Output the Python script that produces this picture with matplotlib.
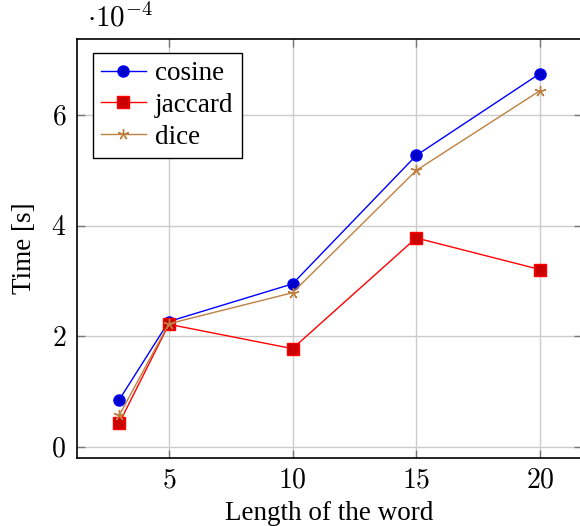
import matplotlib
matplotlib.use("Agg")
import matplotlib.pyplot as plt

# -- Data (time in units of 1e-4 s) --
word_length = [3, 5, 10, 15, 20]
cosine = [0.86, 2.27, 2.95, 5.27, 6.75]
jaccard = [0.44, 2.22, 1.78, 3.78, 3.21]
dice = [0.58, 2.23, 2.79, 5.00, 6.44]

x_ticks = [5, 10, 15, 20]
y_ticks = [0, 2, 4, 6]

plt.rcParams.update({
    "font.family": "serif",
    "font.serif": ["Liberation Serif", "DejaVu Serif"],
    "mathtext.fontset": "cm",
    "font.size": 19,
})

fig = plt.figure(figsize=(5.8, 5.26), dpi=100)
ax = fig.add_axes([0.1333, 0.1299, 0.870, 0.7965])

ax.plot(word_length, cosine, color="blue", lw=1.0, marker="o", ms=8,
        mfc="#0000cc", mec="blue", label="cosine")
ax.plot(word_length, jaccard, color="red", lw=1.0, marker="s", ms=8,
        mfc="#cc0000", mec="red", label="jaccard")
ax.plot(word_length, dice, color="#bf8040", lw=1.0, marker=(5, 2, 0), ms=8,
        mec="#bf8040", mew=1.0, label="dice")

ax.set_xlim(1.3, 21.7)
ax.set_ylim(-0.19, 7.38)
ax.set_xticks(x_ticks)
ax.set_xticklabels([f"${t}$" for t in x_ticks])
ax.set_yticks(y_ticks)
ax.set_yticklabels([f"${t}$" for t in y_ticks])
ax.tick_params(direction="in", top=True, right=True, length=6, width=1.0,
               color="#777777", labelsize=20, pad=8)
ax.grid(True, color="#cccccc", lw=1.0)
ax.set_axisbelow(True)
for sp in ax.spines.values():
    sp.set_linewidth(1.2)

ax.set_xlabel("Length of the word", labelpad=5, fontsize=19.5)
ax.set_ylabel("Time [s]", labelpad=10, fontsize=19.5)
ax.text(0.02, 1.028, r"$\cdot 10^{-4}$", transform=ax.transAxes, fontsize=21,
        ha="left", va="baseline")

leg = ax.legend(loc="upper left", bbox_to_anchor=(0.031, 0.966), fancybox=False,
                framealpha=1, edgecolor="black", handlelength=1.65,
                handletextpad=0.35, labelspacing=0.25, borderpad=0.3,
                borderaxespad=0, fontsize=19.5)
leg.get_frame().set_linewidth(1.0)

plt.savefig("out.png", dpi=100)
plt.close()
